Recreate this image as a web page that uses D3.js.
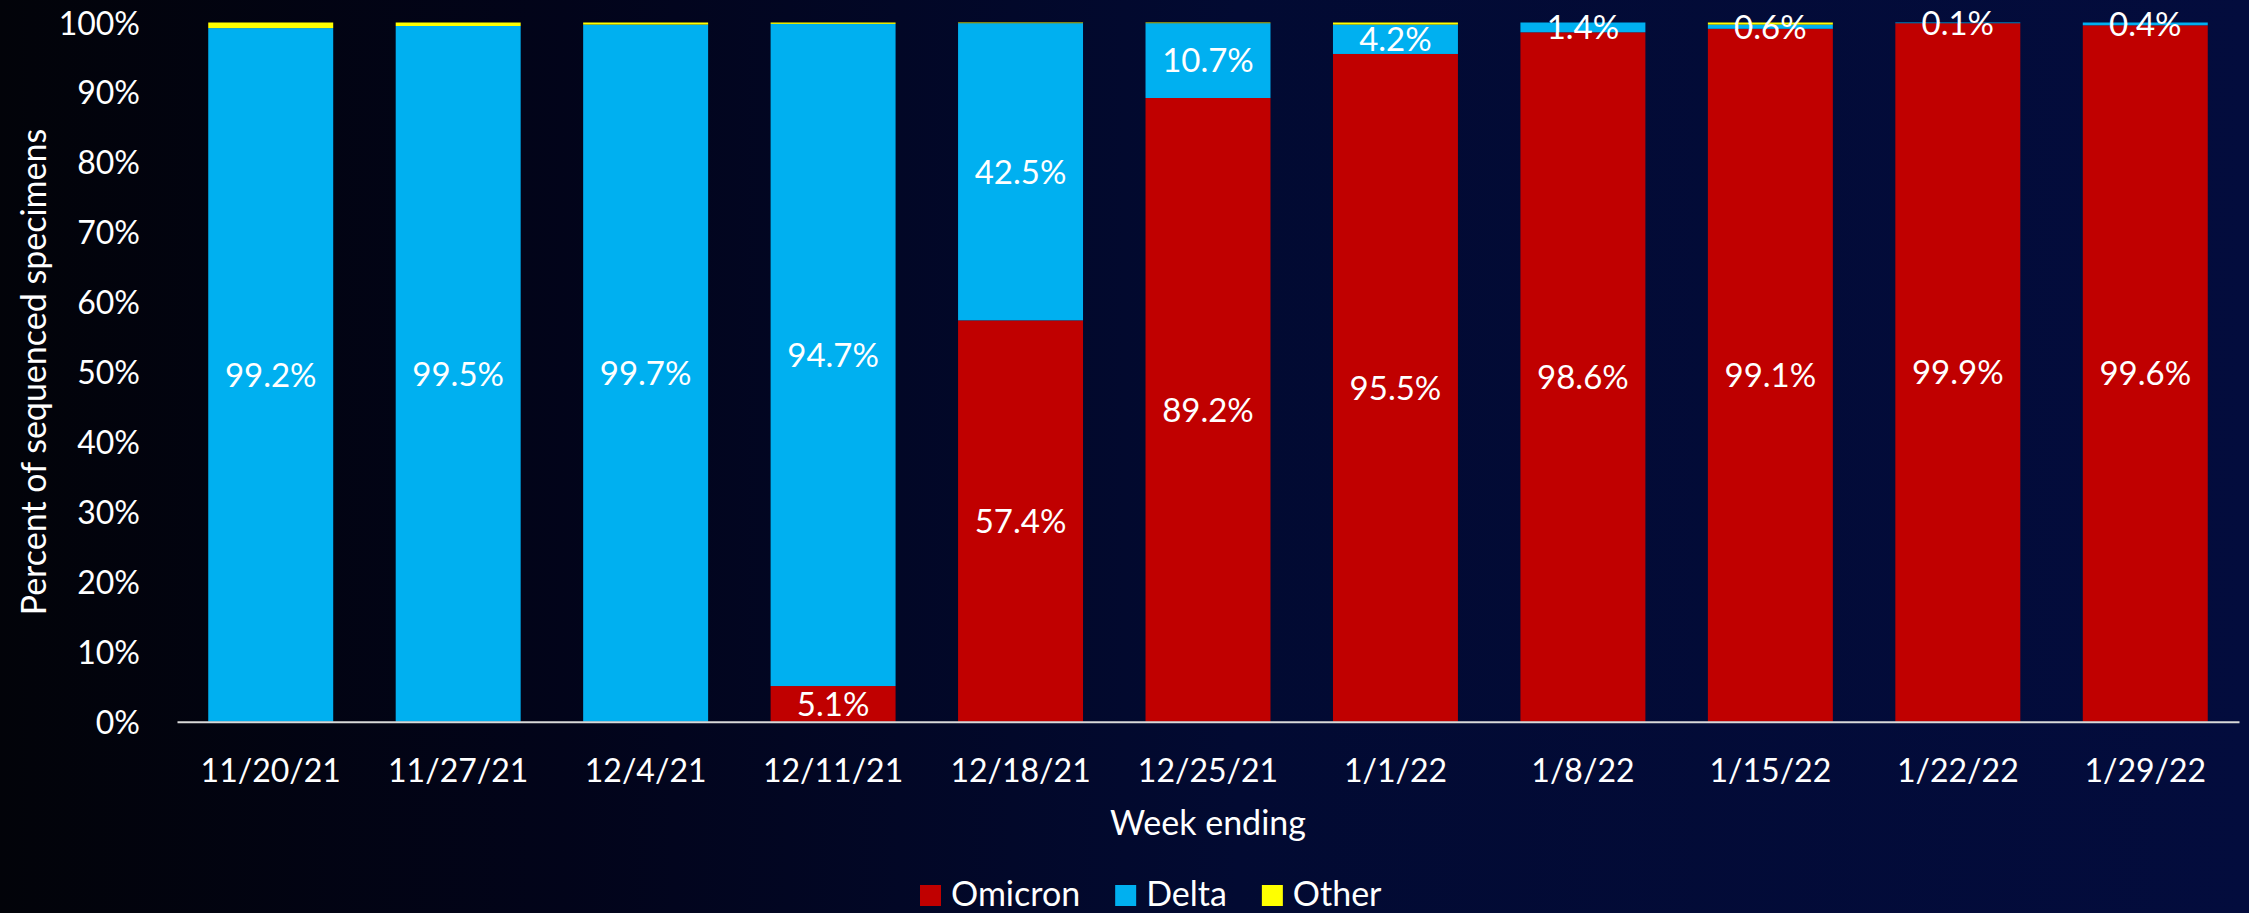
<!DOCTYPE html>
<html>
<head>
<meta charset="utf-8">
<script src="https://cdn.jsdelivr.net/npm/d3@7"></script>
<style>
    html, body { margin: 0; padding: 0; overflow: hidden; background: #020309; }
    text { font-family: Lato, "Open Sans", sans-serif; fill: #ffffff; }
</style>
</head>
<body>
<div id="chart-container"></div>
<script>
// week ending dates and the share of each variant (percent)
const weeks = ["11/20/21", "11/27/21", "12/4/21", "12/11/21", "12/18/21", "12/25/21",
    "1/1/22", "1/8/22", "1/15/22", "1/22/22", "1/29/22"];
const omicron = [0, 0, 0, 5.1, 57.4, 89.2, 95.5, 98.6, 99.1, 99.9, 99.6];
const delta = [99.2, 99.5, 99.7, 94.7, 42.5, 10.7, 4.2, 1.4, 0.6, 0.1, 0.4];
const other = [0.8, 0.5, 0.3, 0.2, 0.1, 0.1, 0.3, 0, 0.3, 0, 0];
const yTicks = [0, 10, 20, 30, 40, 50, 60, 70, 80, 90, 100];
const seriesNames = ["Omicron", "Delta", "Other"];

const w = 2249;
const h = 913;
const plot = { left: 177, right: 2239, top: 22.5, bottom: 721.7 };
const colors = { Omicron: "#C00000", Delta: "#00B0F0", Other: "#FFFF00" };

const rows = weeks.map((wk, i) => ({ week: wk, Omicron: omicron[i], Delta: delta[i], Other: other[i] }));
const series = d3.stack().keys(seriesNames)(rows);

const svg = d3.select('#chart-container')
    .append('svg')
    .attr('width', w)
    .attr('height', h);

const grad = svg.append('defs').append('linearGradient')
    .attr('id', 'bg')
    .attr('x1', '0%').attr('x2', '100%')
    .attr('y1', '0%').attr('y2', '0%');
grad.append('stop').attr('offset', '0%').attr('stop-color', '#020309');
grad.append('stop').attr('offset', '25%').attr('stop-color', '#02041a');
grad.append('stop').attr('offset', '55%').attr('stop-color', '#020a32');
grad.append('stop').attr('offset', '100%').attr('stop-color', '#030c3d');

svg.append('rect')
    .attr('width', w)
    .attr('height', h)
    .attr('fill', 'url(#bg)');

const xScale = d3.scaleBand()
    .domain(weeks)
    .range([plot.left, plot.right])
    .paddingInner(1 / 3)
    .paddingOuter(1 / 6);

const yScale = d3.scaleLinear()
    .domain([0, 100])
    .range([plot.bottom, plot.top]);

// stacked bars
const layer = svg.selectAll('g.layer')
    .data(series)
    .enter()
    .append('g')
    .attr('class', 'layer')
    .attr('fill', d => colors[d.key]);

layer.selectAll('rect')
    .data(d => d)
    .enter()
    .append('rect')
    .attr('x', d => xScale(d.data.week))
    .attr('y', d => yScale(d[1]))
    .attr('width', xScale.bandwidth())
    .attr('height', d => yScale(d[0]) - yScale(d[1]));

// data labels (omicron and delta only)
series.filter(s => s.key !== "Other").forEach(s => {
    svg.append('g')
        .selectAll('text')
        .data(s.filter(d => d[1] - d[0] > 0))
        .enter()
        .append('text')
        .attr('x', d => xScale(d.data.week) + xScale.bandwidth() / 2)
        .attr('y', d => yScale((d[0] + d[1]) / 2))
        .attr('dy', '0.36em')
        .attr('text-anchor', 'middle')
        .style('font-size', '33px')
        .text(d => d.data[s.key].toFixed(1) + '%');
});

// axes
const yAxis = d3.axisLeft(yScale)
    .tickValues(yTicks)
    .tickSize(0)
    .tickPadding(37)
    .tickFormat(d => d + '%');

const yG = svg.append('g')
    .attr('id', 'y-axis')
    .attr('transform', 'translate(' + plot.left + ',0)')
    .call(yAxis);
yG.select('.domain').remove();
yG.selectAll('text').style('font-size', '32px').attr('fill', '#fff').attr('dy', '0.36em');

const xAxis = d3.axisBottom(xScale)
    .tickSize(0)
    .tickPadding(37.5);

const xG = svg.append('g')
    .attr('id', 'x-axis')
    .attr('transform', 'translate(0,' + plot.bottom + ')')
    .call(xAxis);
xG.select('.domain').attr('stroke', '#d9d9d9').attr('stroke-width', 2);
xG.selectAll('text').style('font-size', '32px').attr('fill', '#fff');

// axis titles
svg.append('text')
    .attr('x', (plot.left + plot.right) / 2)
    .attr('y', 835)
    .attr('text-anchor', 'middle')
    .style('font-size', '34px')
    .text('Week ending');

svg.append('text')
    .attr('transform', 'translate(34,' + (plot.top + plot.bottom) / 2 + ') rotate(-90)')
    .attr('text-anchor', 'middle')
    .attr('dy', '0.36em')
    .style('font-size', '34px')
    .text('Percent of sequenced specimens');

// legend
const legend = svg.append('g').attr('transform', 'translate(920,906)');
let lx = 0;
seriesNames.forEach(name => {
    legend.append('rect')
        .attr('x', lx)
        .attr('y', -21)
        .attr('width', 21)
        .attr('height', 21)
        .attr('fill', colors[name]);
    const t = legend.append('text')
        .attr('x', lx + 31)
        .attr('y', 0)
        .style('font-size', '34px')
        .text(name);
    lx += 31 + t.node().getComputedTextLength() + 35;
});
</script>
</body>
</html>
